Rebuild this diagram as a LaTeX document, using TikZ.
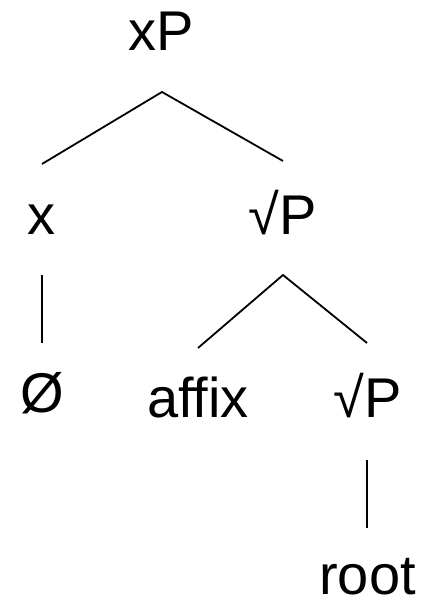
\documentclass[tikz,border=0pt]{standalone}
\usepackage{fontspec}
\setmainfont{Liberation Sans}[Ligatures=NoCommon]
\begin{document}
\begin{tikzpicture}[x=1pt,y=1pt,
  lbl/.style={anchor=base,inner sep=0pt,font=\fontsize{56}{60}\selectfont},
  edge/.style={line width=1.8pt,black}]
\useasboundingbox (0,0) rectangle (421,601);
\node[lbl] (xP) at (161,550) {xP};
\node[lbl] (x) at (41.5,366) {x};
\node[lbl] (rP1) at (282.5,366) {√P};
\node[lbl] (null) at (42,188) {Ø};
\node[lbl] (affix) at (198,183) {affix};
\node[lbl] (rP2) at (367.5,183) {√P};
\node[lbl] (root) at (367.5,6) {root};
% edge end points
\coordinate (a1) at (162,509);
\coordinate (a1l) at (42,437);
\coordinate (a1r) at (283,440);
\coordinate (v1t) at (42,326);
\coordinate (v1b) at (42,258);
\coordinate (a2) at (283,326);
\coordinate (a2l) at (198,253);
\coordinate (a2r) at (367,258);
\coordinate (v2t) at (367,141);
\coordinate (v2b) at (367,73);
\draw[edge] (a1l) -- (a1) -- (a1r);
\draw[edge] (v1t) -- (v1b);
\draw[edge] (a2l) -- (a2) -- (a2r);
\draw[edge] (v2t) -- (v2b);
\end{tikzpicture}
\end{document}
